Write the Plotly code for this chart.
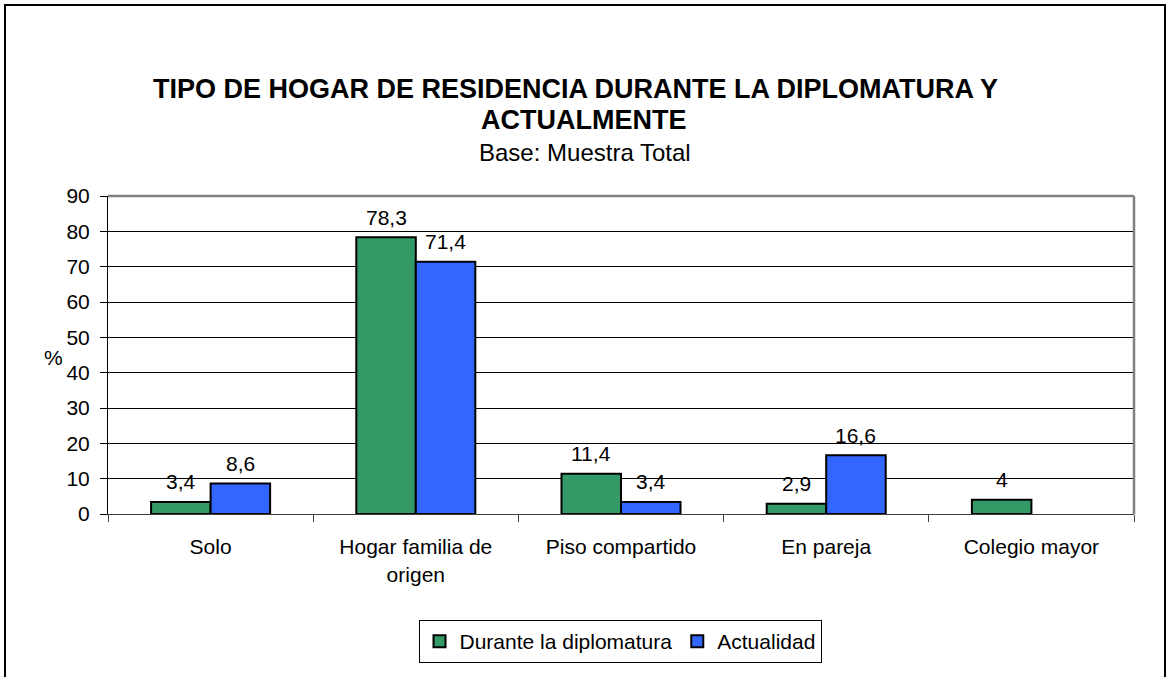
import plotly.graph_objects as go

categories = ["Solo", "Hogar familia de<br>origen", "Piso compartido", "En pareja", "Colegio mayor"]
durante = [3.4, 78.3, 11.4, 2.9, 4.0]
actualidad = [8.6, 71.4, 3.4, 16.6, None]
series_names = ["Durante la diplomatura", "Actualidad"]
y_ticks = [0, 10, 20, 30, 40, 50, 60, 70, 80, 90]

FONT = "Liberation Sans, Arial, sans-serif"

def fmt(v):
    return f"{v:g}".replace(".", ",")

W, H = 1166, 677
L, R, T, B = 108, 1134, 196, 514
pw, ph = R - L, B - T

def px(x):
    return (x - L) / pw

def py(y):
    return (B - y) / ph

BARGAP = 0.42
bar_w = pw / len(categories) * (1 - BARGAP) / 2

fig = go.Figure()
fig.add_trace(go.Bar(
    x=categories, y=durante, name=series_names[0],
    marker=dict(color="#339966", line=dict(color="black", width=2)),
))
fig.add_trace(go.Bar(
    x=categories, y=actualidad, name=series_names[1],
    marker=dict(color="#3366FF", line=dict(color="black", width=2)),
))

annotations = []
for vals, sign in ((durante, -1), (actualidad, 1)):
    for cat, v in zip(categories, vals):
        if v is None:
            continue
        annotations.append(dict(
            x=cat, y=v, xref="x", yref="y", text=fmt(v), showarrow=False,
            xshift=sign * bar_w / 2, yshift=20, yanchor="middle",
            font=dict(size=21, family=FONT, color="black"),
        ))

annotations += [
    dict(text="<b>TIPO DE HOGAR DE RESIDENCIA DURANTE LA DIPLOMATURA Y</b>",
         x=px(575), y=py(89), xref="paper", yref="paper", showarrow=False,
         yanchor="middle", font=dict(size=27, family=FONT)),
    dict(text="<b>ACTUALMENTE</b>",
         x=px(583), y=py(120), xref="paper", yref="paper", showarrow=False,
         yanchor="middle", font=dict(size=27, family=FONT)),
    dict(text="Base: Muestra Total",
         x=px(585), y=py(152), xref="paper", yref="paper", showarrow=False,
         yanchor="middle", font=dict(size=24, family=FONT)),
    dict(text="%", x=px(42), y=py(357), xref="paper", yref="paper",
         showarrow=False, yanchor="middle", font=dict(size=21, family=FONT)),
]

fig.update_layout(
    width=W, height=H,
    margin=dict(l=L, r=W - R, t=T, b=H - B),
    paper_bgcolor="white", plot_bgcolor="white",
    font=dict(family=FONT, color="black", size=21),
    barmode="group", bargap=BARGAP, bargroupgap=0,
    showlegend=True,
    legend=dict(
        orientation="h", x=px(620), xanchor="center", y=py(620), yanchor="top",
        bordercolor="black", borderwidth=1, font=dict(size=21, family=FONT),
        traceorder="normal", itemwidth=30, tracegroupgap=0,
    ),
    xaxis=dict(
        type="category", tickson="boundaries", ticks="outside", ticklen=7,
        tickcolor="#404040", showline=True, linecolor="#404040", linewidth=1,
        showgrid=False, tickfont=dict(size=21, family=FONT),
        ticklabelstandoff=14,
    ),
    yaxis=dict(
        range=[0, 90], tickvals=y_ticks, ticks="outside", ticklen=7,
        tickcolor="black", showline=True, linecolor="black", linewidth=1,
        showgrid=True, gridcolor="black", gridwidth=1, zeroline=False,
        tickfont=dict(size=21, family=FONT), ticklabelstandoff=6,
    ),
    annotations=annotations,
    shapes=[
        dict(type="rect", xref="paper", yref="paper",
             x0=px(5), x1=px(1165), y0=py(690), y1=py(5),
             line=dict(color="black", width=2), fillcolor="rgba(0,0,0,0)", layer="above"),
        dict(type="line", xref="paper", yref="paper", x0=0, x1=1, y0=1, y1=1,
             line=dict(color="#808080", width=2.5)),
        dict(type="line", xref="paper", yref="paper", x0=1, x1=1, y0=0, y1=1,
             line=dict(color="#808080", width=2.5)),
    ],
)

fig.write_html("out.html", config={"displayModeBar": False},
               post_script="document.body.style.margin='0';")
